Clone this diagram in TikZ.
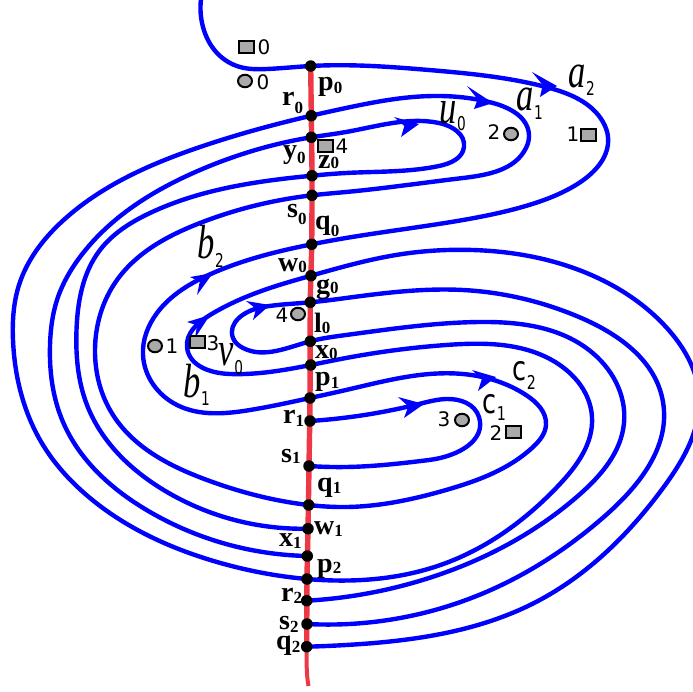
\documentclass[tikz,border=0pt]{standalone}
\usepackage{graphicx}
\usepackage{fontspec}
\setmainfont{Liberation Serif}
\newfontfamily\sansf{DejaVu Sans}
\usetikzlibrary{calc,hobby,shapes.geometric}
\pgfdeclarelayer{bg}
\pgfsetlayers{bg,main}
\definecolor{curveblue}{RGB}{0,0,255}
\definecolor{axisred}{RGB}{238,56,70}
\definecolor{markgray}{RGB}{170,170,170}
\tikzset{
  dotnode/.style={circle,fill=black,inner sep=0pt,minimum size=11.5pt},
  curve/.style={draw=curveblue,line width=4.4pt,line join=round,use Hobby shortcut},
  axis/.style={draw=axisred,line width=5.4pt},
  squaremark/.style={rectangle,draw=black,line width=2pt,fill=markgray,inner sep=0pt,minimum width=15pt,minimum height=12pt},
  circlemark/.style={ellipse,draw=black,line width=2pt,fill=markgray,inner sep=0pt,minimum width=14pt,minimum height=12.5pt},
  numtext/.style={inner sep=0pt,font=\sansf\fontsize{20}{20}\selectfont},
  txt/.style={anchor=base west,inner sep=0pt},
}
\newcommand\dotat[3]{\node[dotnode] (#1) at (#2,#3) {};}
\newcommand\bl[6]{\node[txt] (#1) at (#2,#3) {\fontsize{28}{28}\selectfont\bfseries #4\kern0pt\raisebox{-#6pt}{\fontsize{17}{17}\selectfont #5}};}
\newcommand\itl[6]{\node[txt] (#1) at (#2,#3) {\scalebox{.72}[1]{\fontsize{48}{48}\selectfont\itshape #4\kern1pt\raisebox{-#6pt}{\sansf\upshape\fontsize{19}{19}\selectfont #5}}};}
\newcommand\cl[6]{\node[txt] (#1) at (#2,#3) {\scalebox{.75}[1]{\sansf\fontsize{34}{34}\selectfont #4\kern1pt\raisebox{-#6pt}{\fontsize{19}{19}\selectfont #5}}};}
% tip, barb, barb
\newcommand\ah[6]{\fill[curveblue] (#1,#2) -- (#3,#4) -- ($(#1,#2)!0.68!($(#3,#4)!0.5!(#5,#6)$)$) -- (#5,#6) -- cycle;}
\begin{document}
\begin{tikzpicture}[x=1pt,y=-1pt]
\useasboundingbox (0,0) rectangle (693,691);
% points on the axis
\dotat{p0}{310.7}{66}
\dotat{r0}{311.3}{115.7}
\dotat{y0}{311.3}{137.3}
\dotat{z0}{312}{175.7}
\dotat{s0}{312}{195.3}
\dotat{q0}{311.7}{244.3}
\dotat{w0}{311}{275.7}
\dotat{g0}{310.3}{302.3}
\dotat{l0}{310.3}{341.3}
\dotat{x0}{310.7}{365}
\dotat{p1}{310}{398}
\dotat{r1}{310}{421}
\dotat{s1}{309}{466}
\dotat{q1}{308.7}{505}
\dotat{w1}{308}{528.7}
\dotat{x1}{307.3}{556}
\dotat{p2}{307}{579}
\dotat{r2}{306.7}{600.7}
\dotat{s2}{307}{624}
\dotat{q2}{306.7}{646.7}
\coordinate (top) at (201,-1);
\coordinate (bot) at (308.5,686);
\begin{pgfonlayer}{bg}
% long curve
\draw[curve] (top) .. (203,27) .. (217,53) .. (240,67) .. (267,69) .. (p0.center) .. (429,70) .. (546,87) .. (603,122) .. (608,137) .. (579,183) .. (529,205) .. (463,220) .. (346,238)
 .. (q0.center) .. (213,273) .. (157,313) .. (143,355) .. (177,405) .. (250,410)
 .. (p1.center) .. (346,390) .. (463,374) .. (526,395) .. (546,425) .. (533,447) .. (446,490) .. (346,507)
 .. (q1.center) .. (207,480) .. (113,415) .. (95,350) .. (117,280) .. (200,223)
 .. (s0.center) .. (346,192) .. (463,178) .. (526,148) .. (529,135) .. (493,103) .. (413,97) .. (346,108)
 .. (r0.center) .. (200,147) .. (67,217) .. (19,285) .. (13,340) .. (43,445) .. (83,492) .. (217,562)
 .. (p2.center) .. (446,563) .. (559,485) .. (592,417) .. (546,357) .. (446,345) .. (346,358)
 .. (x0.center) .. (230,374) .. (187,347) .. (210,315) .. (273,287)
 .. (w0.center) .. (396,255) .. (473,250) .. (579,270) .. (666,327) .. (699,395) .. (663,488) .. (536,602) .. (346,645)
 .. (q2.center);
% loop r2 - l0 - g0 - s2
\draw[curve] (r2.center) .. (429,578) .. (579,495) .. (624,423) .. (589,350) .. (479,322) .. (346,335)
 .. (l0.center) .. (243,348) .. (233,338) .. (263,307)
 .. (g0.center) .. (346,298) .. (463,290) .. (579,317) .. (663,402) .. (606,515) .. (479,595)
 .. (s2.center);
% loop x1 - y0 - z0 - w1
\draw[curve] (x1.center) .. (150,512) .. (63,422) .. (50,345) .. (57,300) .. (80,257) .. (200,170)
 .. (y0.center) .. (346,132) .. (439,123) .. (464,147) .. (439,166) .. (346,173)
 .. (z0.center) .. (150,213) .. (100,250) .. (76.5,330) .. (87,405) .. (167,492)
 .. (w1.center);
% small loop r1 - s1
\draw[curve] (r1.center) .. (419,404) .. (446,399) .. (479,417) .. (429,460) .. (346,467) .. (s1.center);
% axis
\draw[axis,smooth] plot coordinates {(p0.center) (r0.center) (z0.center) (q0.center) (g0.center) (p1.center) (s1.center) (w1.center) (p2.center) (q2.center)};
\draw[axis,line width=4pt] (q2.center) .. controls (306.5,665) and (306.5,675) .. (bot);
% arrowheads
\ah{557}{86}{532}{72}{540}{97}
\ah{493}{103}{467}{86}{474}{109}
\ah{419}{124}{394}{117}{401}{137}
\ah{213}{273}{190}{277}{197}{295}
\ah{210}{315}{187}{322}{195}{338}
\ah{270}{305}{246}{301}{253}{320}
\ah{496}{377}{472}{370}{478}{391}
\ah{424}{404}{398}{397}{404}{418}
\end{pgfonlayer}
% markers
\node[squaremark] (sq0) at (246,46.5) {};
\node[numtext] (nsq0) at (264,47) {0};
\node[circlemark] (ci0) at (245,81) {};
\node[numtext] (nci0) at (263,82) {0};
\node[squaremark] (sq4) at (325.7,146) {};
\node[numtext] (nsq4) at (342,146) {4};
\node[circlemark] (ci2) at (511,134) {};
\node[numtext] (nci2) at (494,132) {2};
\node[squaremark] (sq1) at (588,135) {};
\node[numtext] (nsq1) at (573,134) {1};
\node[circlemark] (ci1) at (155,346) {};
\node[numtext] (nci1) at (172,346) {1};
\node[squaremark] (sq3) at (197,342) {};
\node[numtext] (nsq3) at (213,343) {3};
\node[circlemark] (ci4) at (298,314) {};
\node[numtext] (nci4) at (282,315) {4};
\node[circlemark] (ci3) at (462,420) {};
\node[numtext] (nci3) at (444,419) {3};
\node[squaremark] (sq2) at (513,432) {};
\node[numtext] (nsq2) at (496,433) {2};
% italic labels
\itl{la2}{568}{87}{a}{2}{8.5}
\itl{la1}{516}{110}{a}{1}{9}
\itl{lu0}{439}{123}{u}{0}{7}
\itl{lb2}{197}{258}{b}{2}{9}
\itl{lb1}{183}{397}{b}{1}{8}
\itl{lv0}{218}{365}{v}{0}{9}
\cl{lc2}{512}{380}{c}{2}{9}
\cl{lc1}{482}{413}{c}{1}{7}
% bold labels
\bl{tp0}{318}{90}{p}{0}{3.5}
\bl{tr0}{282}{105}{r}{0}{8}
\bl{ty0}{283}{158}{y}{0}{5}
\bl{tz0}{318}{168}{z}{0}{0.5}
\bl{ts0}{287}{217}{s}{0}{7.5}
\bl{tq0}{315}{229}{q}{0}{7.5}
\bl{tw0}{278}{271}{w}{0}{1.5}
\bl{tg0}{316}{293}{g}{0}{0.5}
\bl{tl0}{314}{332}{l}{0}{1.5}
\bl{tx0}{315}{358}{x}{0}{1.5}
\bl{tp1}{315}{385}{p}{1}{3.5}
\bl{tr1}{283}{423}{r}{1}{3.5}
\bl{ts1}{281}{462}{s}{1}{1.5}
\bl{tq1}{317}{491}{q}{1}{2.5}
\bl{tw1}{314}{534}{w}{1}{2.5}
\bl{tx1}{279}{546}{x}{1}{2.5}
\bl{tp2}{317}{572}{p}{2}{1.5}
\bl{tr2}{281}{601}{r}{2}{2.5}
\bl{ts2}{279}{629}{s}{2}{3.5}
\bl{tq2}{276}{649}{q}{2}{3.5}
\end{tikzpicture}
\end{document}
